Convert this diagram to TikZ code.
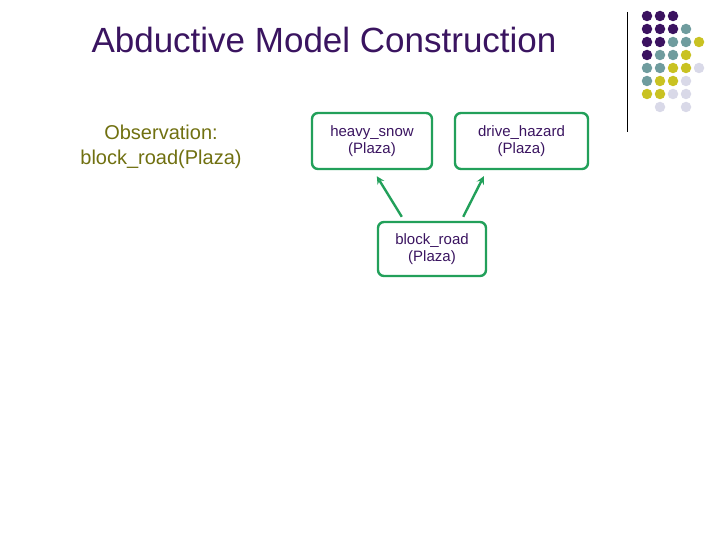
\documentclass[tikz,border=0pt]{standalone}
\usepackage{fontspec}
\setmainfont{Liberation Sans}
\usetikzlibrary{positioning}
\definecolor{titlepurple}{HTML}{3A1460}
\definecolor{P}{HTML}{3B1260}
\definecolor{T}{HTML}{6F9C9E}
\definecolor{Y}{HTML}{C9C222}
\definecolor{L}{HTML}{D9D9E8}
\definecolor{obsolive}{HTML}{707010}
\definecolor{boxgreen}{HTML}{22A05A}
\tikzstyle{pred} = [rectangle, rounded corners=6pt, draw=boxgreen, line width=2.4pt, text=titlepurple, font=\fontsize{15}{17}\selectfont, align=center, inner sep=0pt]
\tikzstyle{link} = [->, >=stealth, draw=boxgreen, line width=2.4pt]
\tikzstyle{dot} = [circle, inner sep=0pt, minimum size=10.5pt]

\begin{document}
\begin{tikzpicture}[x=1pt,y=-1pt]
    \useasboundingbox (0,0) rectangle (720,540);
    \node [text=titlepurple, font=\fontsize{35}{40}\selectfont] (title) at (324,40) {Abductive Model Construction};
    \node [text=obsolive, font=\fontsize{20}{25}\selectfont, align=center] (obs) at (161,147) {Observation:\\block\_road(Plaza)};

    \node [pred, minimum width=120pt, minimum height=56pt] (snow) at (372,141) {heavy\_snow\\(Plaza)};
    \node [pred, minimum width=133pt, minimum height=56pt] (hazard) at (521.5,141) {drive\_hazard\\(Plaza)};
    \node [pred, minimum width=108pt, minimum height=54pt] (road) at (432,249) {block\_road\\(Plaza)};

    \draw[link] ([xshift=25pt,yshift=4pt]road.north west) -- ([xshift=66pt,yshift=-6pt]snow.south west);
    \draw[link] ([xshift=-24pt,yshift=4pt]road.north east) -- ([xshift=30pt,yshift=-6pt]hazard.south west);

    % decoration in the corner
    \draw[line width=1pt] (627,12) -- (627,132);
    \foreach \row/\cols in {0/{P,P,P,none,none},1/{P,P,P,T,none},2/{P,P,T,T,Y},3/{P,T,T,Y,none},4/{T,T,Y,Y,L},5/{T,Y,Y,L,none},6/{Y,Y,L,L,none},7/{none,L,none,L,none}} {
        \foreach \c [count=\i from 0] in \cols {
            \node[dot, fill=\c] (d\row\i) at (647+13*\i,16+13*\row) {};
        }
    }
\end{tikzpicture}
\end{document}
